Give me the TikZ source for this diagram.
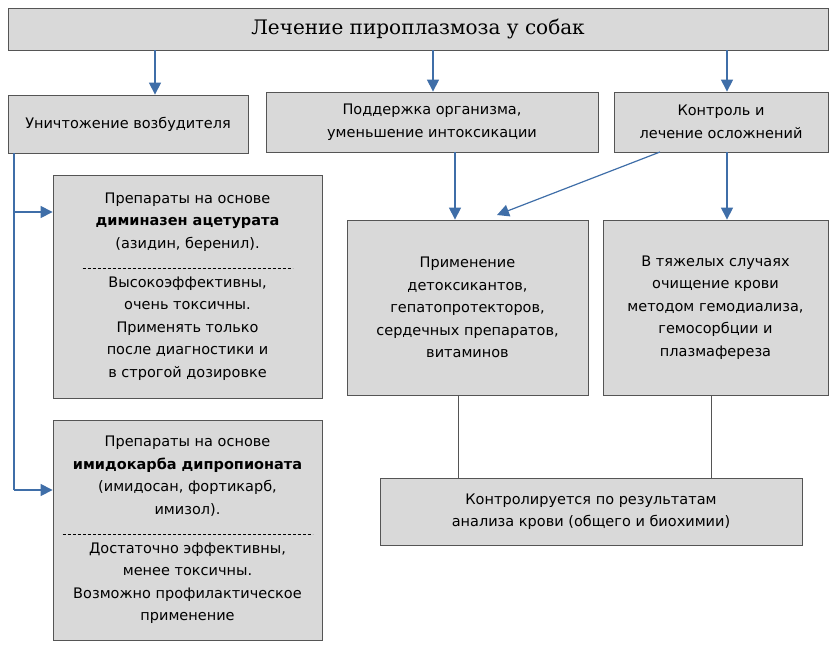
\documentclass[tikz,border=0pt]{standalone}
\usepackage{fontspec}
\setmainfont{DejaVu Sans}
\newfontfamily\titlefont{DejaVu Serif}
\usetikzlibrary{arrows.meta}
\definecolor{boxgray}{HTML}{D9D9D9}
\definecolor{linegray}{HTML}{555555}
\definecolor{arrowblue}{HTML}{3F6EA8}
\newcommand{\sepline}[1]{\tikz\draw[line width=0.6pt,dash pattern=on 3pt off 2pt] (0,0) -- (#1pt,0);}
\tikzset{
  box/.style={draw=linegray,fill=boxgray,line width=0.8pt,align=center,font=\fontsize{14.5}{22.5}\selectfont,inner sep=2pt},
  conn/.style={draw=arrowblue,line width=1.2pt},
  arr/.style={conn,-{Triangle[length=12pt,width=12pt]}}
}
\begin{document}
\begin{tikzpicture}[x=1pt,y=-1pt]
\useasboundingbox (0,0) rectangle (840,648);
\node[box,minimum width=820,minimum height=42,font=\titlefont\fontsize{20}{22}\selectfont] (title) at (418,29) {Лечение пироплазмоза у собак};
\node[box,minimum width=240,minimum height=58] (kill) at (128,124) {Уничтожение возбудителя};
\node[box,minimum width=332,minimum height=60] (support) at (432,122) {Поддержка организма,\\уменьшение интоксикации};
\node[box,minimum width=214,minimum height=60] (control) at (721,122) {Контроль и\\лечение осложнений};
\node[box,minimum width=269,minimum height=223] (dimin) at (187.5,286.5) {Препараты на основе\\\textbf{диминазен ацетурата}\\(азидин, беренил).\\[-2pt]\sepline{210}\\[-4pt]Высокоэффективны,\\очень токсичны.\\Применять только\\после диагностики и\\в строгой дозировке};
\node[box,minimum width=269,minimum height=220] (imido) at (187.5,530) {Препараты на основе\\\textbf{имидокарба дипропионата}\\(имидосан, фортикарб,\\имизол).\\[-2pt]\sepline{250}\\[-4pt]Достаточно эффективны,\\менее токсичны.\\Возможно профилактическое\\применение};
\node[box,minimum width=241,minimum height=175] (detox) at (467.5,307.5) {Применение\\детоксикантов,\\гепатопротекторов,\\сердечных препаратов,\\витаминов};
\node[box,minimum width=225,minimum height=175] (blood) at (715.5,307.5) {В тяжелых случаях\\очищение крови\\методом гемодиализа,\\гемосорбции и\\плазмафереза};
\node[box,minimum width=422,minimum height=67] (monitor) at (591,511.5) {Контролируется по результатам\\анализа крови (общего и биохимии)};
% arrows from the title
\draw[arr] (155,50) -- (kill.north -| 155,0);
\draw[arr] (433,50) -- (support.north -| 433,0);
\draw[arr] (727,50) -- (control.north -| 727,0);
% branch of the left column
\draw[conn] (kill.south -| 14,0) -- (14,490);
\draw[arr] (14,212) -- (dimin.west |- 0,212);
\draw[arr] (14,490) -- (imido.west |- 0,490);
\draw[arr] (support.south -| 455,0) -- (detox.north -| 455,0);
\draw[arr] (660,152) -- (497,215);
\draw[arr] (control.south -| 727,0) -- (blood.north -| 727,0);
\draw[draw=linegray,line width=0.8pt] (detox.south -| 458,0) -- (monitor.north -| 458,0);
\draw[draw=linegray,line width=0.8pt] (blood.south -| 711,0) -- (monitor.north -| 711,0);
\end{tikzpicture}
\end{document}
